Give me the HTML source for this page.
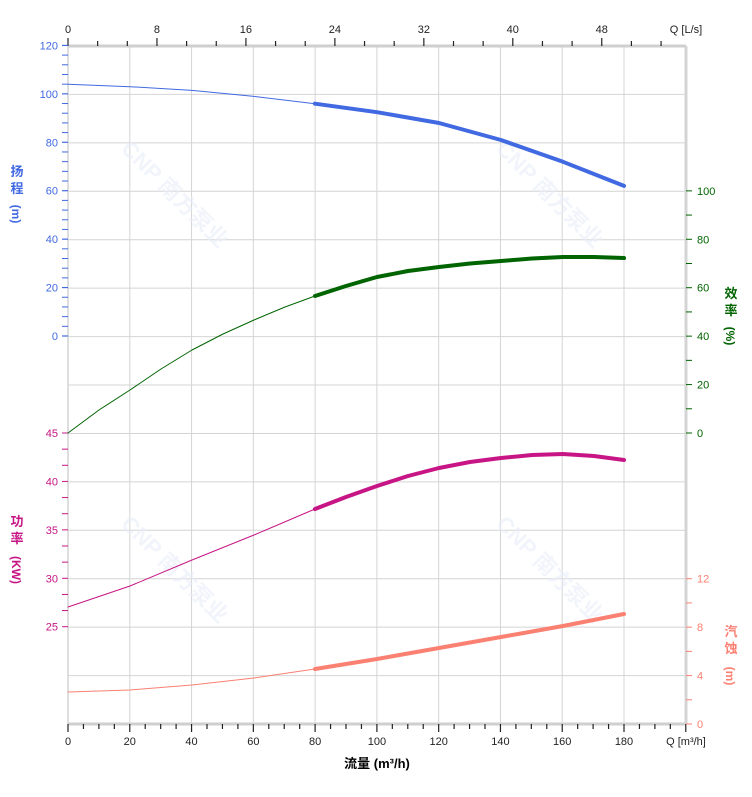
<!DOCTYPE html>
<html><head><meta charset="utf-8"><style>
html,body{margin:0;padding:0;background:#fff;width:752px;height:797px;overflow:hidden}
svg{display:block;font-family:"Liberation Sans","Noto Sans CJK SC",sans-serif}
</style></head><body>
<svg id="s" width="752" height="797" viewBox="0 0 752 797" xmlns="http://www.w3.org/2000/svg">
<g id="grid" stroke="#d4d4d4" stroke-width="1"></g>
<g id="wm" fill="#e8eff8" font-size="22" font-weight="bold" opacity="0.6">
<text transform="translate(120,150) rotate(45)">CNP 南方泵业</text>
<text transform="translate(495,150) rotate(45)">CNP 南方泵业</text>
<text transform="translate(120,525) rotate(45)">CNP 南方泵业</text>
<text transform="translate(495,525) rotate(45)">CNP 南方泵业</text>
</g>
<g id="ax"></g>
<g fill="none" stroke-linecap="round" stroke-linejoin="round">
<polyline stroke="#4169e1" stroke-width="1" points="68,84.3 130,86.7 192,90.4 254,96.4 315,103.7"/>
<polyline stroke="#4169e1" stroke-width="4" points="315,103.7 377,112.2 439,123 501,140 563,161.8 624,185.9"/>
<polyline stroke="#006400" stroke-width="1" points="68,433 99,410 130,390 161,369 192,350 223,334 254,320 285,307 315,296"/>
<polyline stroke="#006400" stroke-width="4" points="315,296 346,286 377,277 408,271 439,267 470,263.5 501,261 532,258.5 563,257 594,257 624,258"/>
<polyline stroke="#c71585" stroke-width="1" points="68,607 130,586 192,560 254,535 315,509"/>
<polyline stroke="#c71585" stroke-width="4" points="315,509 346,497 377,486 408,476 439,468 470,462 501,458 532,455 563,454 594,456 624,460"/>
<polyline stroke="#fa8072" stroke-width="1" points="68,692 130,690 192,685 254,678 315,669"/>
<polyline stroke="#fa8072" stroke-width="4" points="315,669 377,659 439,648 501,637 563,626 624,614"/>
</g>
<text x="377" y="768" font-size="13" font-weight="bold" text-anchor="middle">流量 (m³/h)</text>
<g font-size="13" font-weight="bold">
<text x="17" y="176" fill="#4169e1" text-anchor="middle">扬</text>
<text x="17" y="193" fill="#4169e1" text-anchor="middle">程</text>
<text transform="translate(12,214) rotate(90)" fill="#4169e1" font-size="12" text-anchor="middle">(m)</text>
<text x="17" y="526" fill="#c71585" text-anchor="middle">功</text>
<text x="17" y="543" fill="#c71585" text-anchor="middle">率</text>
<text transform="translate(12,570) rotate(90)" fill="#c71585" font-size="12" text-anchor="middle">(KW)</text>
<text x="731" y="298" fill="#006400" text-anchor="middle">效</text>
<text x="731" y="315" fill="#006400" text-anchor="middle">率</text>
<text transform="translate(726,336) rotate(90)" fill="#006400" font-size="12" text-anchor="middle">(%)</text>
<text x="731" y="636" fill="#fa8072" text-anchor="middle">汽</text>
<text x="731" y="653" fill="#fa8072" text-anchor="middle">蚀</text>
<text transform="translate(726,676) rotate(90)" fill="#fa8072" font-size="12" text-anchor="middle">(m)</text>
</g>
</svg>
<script>
var NS="http://www.w3.org/2000/svg",g=document.getElementById('grid'),ax=document.getElementById('ax');
function L(p,x1,y1,x2,y2,c,w){var e=document.createElementNS(NS,'line');e.setAttribute('x1',x1);e.setAttribute('y1',y1);e.setAttribute('x2',x2);e.setAttribute('y2',y2);e.setAttribute('stroke',c);e.setAttribute('stroke-width',w||1);p.appendChild(e);}
function T(x,y,s,c,a){var e=document.createElementNS(NS,'text');e.setAttribute('x',x);e.setAttribute('y',y);e.setAttribute('fill',c);e.setAttribute('font-size',11);e.setAttribute('text-anchor',a||'middle');e.textContent=s;ax.appendChild(e);}
var X0=68,PX=3.0889,Y0=46,DY=48.43;
for(var i=1;i<=10;i++){var x=X0+i*20*PX;L(g,x,46,x,724,'#d4d4d4');}
for(var j=1;j<14;j++){var y=Y0+j*DY;L(g,68,y,686,y,'#d4d4d4');}
L(ax,68,46,686,46,'#cfcfcf',3);L(ax,68,724,686,724,'#cfcfcf',3);
L(ax,68,46,68,724,'#d4d4d4',1.5);L(ax,686,46,686,724,'#d4d4d4',3);
for(var q=0;q<=200;q+=5){var x=X0+q*PX;L(ax,x,724,x,q%20?729:732,'#222',1.2);if(q%20==0&&q<=180)T(x,745,q,'#222');}
T(686,745,'Q [m³/h]','#222','middle');
var LP=3.6*PX;
for(var k=0;k<=55;k+=8/3){var x=X0+k*LP;if(x>687)break;var maj=Math.abs(k/8-Math.round(k/8))<0.01;L(ax,x,46,x,maj?38:41,'#222',1.2);if(maj&&Math.round(k)<=48)T(x,33,Math.round(k),'#222');}
T(686,33,'Q [L/s]','#222');
for(var h=0;h<=120;h+=4){var y=336-h*2.4215;L(ax,62,y,68,y,'#4169e1',h%20?1:1.2);if(h%20==0)T(58,y+4,h,'#4169e1','end');}
for(var p=25;p<=45;p+=5/3){var y=433-(p-45)*9.686;var m=Math.abs(p/5-Math.round(p/5))<0.01;L(ax,62,y,68,y,'#c71585',1);if(m)T(58,y+4,Math.round(p),'#c71585','end');}
for(var e=0;e<=100;e+=10){var y=433-e*2.4215;L(ax,686,y,692,y,'#006400',1);if(e%20==0)T(697,y+4,e,'#006400','start');}
for(var n=0;n<=12;n+=2){var y=724-n*12.107;L(ax,686,y,692,y,'#fa8072',1);if(n%4==0)T(697,y+4,n,'#fa8072','start');}
</script>
</body></html>
